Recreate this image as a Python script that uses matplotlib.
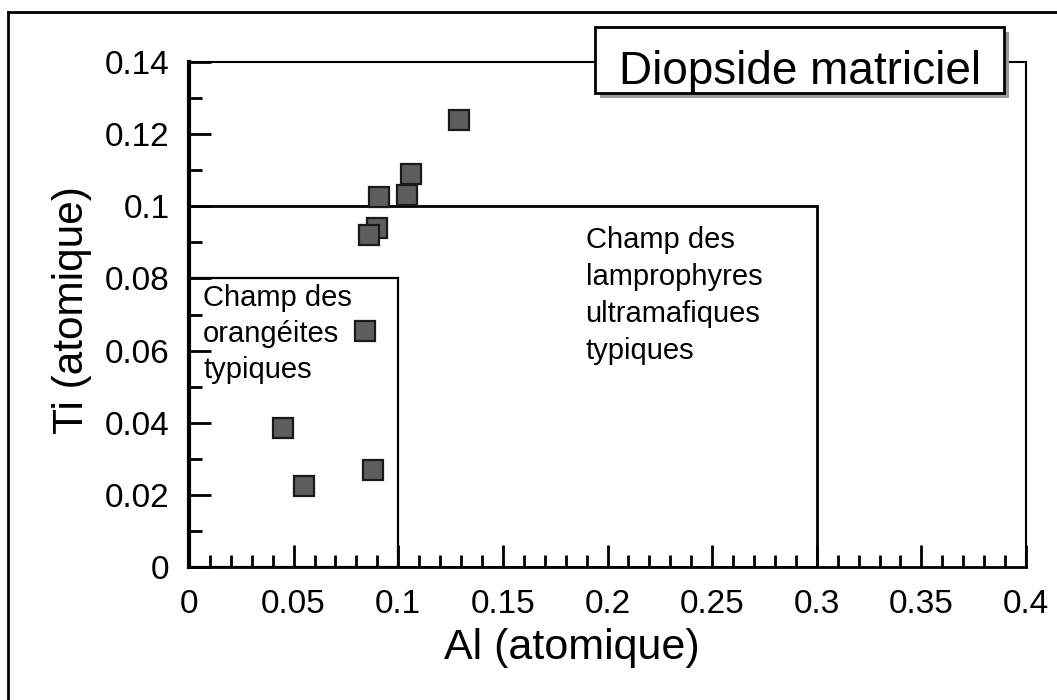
import numpy as np
import matplotlib.pyplot as plt
from matplotlib.patches import Rectangle
from matplotlib.lines import Line2D
from matplotlib.ticker import MultipleLocator

plt.rcParams['font.family'] = ['Liberation Sans', 'DejaVu Sans']

# donnees
al = [0.129, 0.106, 0.104, 0.091, 0.090, 0.086, 0.084, 0.045, 0.055, 0.088]
ti = [0.124, 0.109, 0.103, 0.1025, 0.094, 0.092, 0.0655, 0.0385, 0.0225, 0.027]

# champs (Al max, Ti max)
champ_orangeites = (0.1, 0.08)
champ_lamprophyres = (0.3, 0.1)
txt_orangeites = "Champ des\norangéites\ntypiques"
txt_lamprophyres = "Champ des\nlamprophyres\nultramafiques\ntypiques"

titre = "Diopside matriciel"
xlabel = "Al (atomique)"
ylabel = "Ti (atomique)"

W, H = 1057, 700
fig = plt.figure(figsize=(W / 100, H / 100), dpi=100)

def fx(px):
    return px / W

def fy(py):
    return 1 - py / H

ax = fig.add_axes([fx(189), fy(567), fx(1026) - fx(189), fy(62) - fy(567)])
ax.set_xlim(0, 0.4)
ax.set_ylim(0, 0.14)

# champs
for (w, h), lw in [(champ_lamprophyres, 2.0), (champ_orangeites, 1.6)]:
    ax.add_patch(Rectangle((0, 0), w, h, fill=False, ec='black', lw=lw, zorder=2))

ax.text(0.0067, 0.0785, txt_orangeites, fontsize=21, va='top', ha='left',
        linespacing=1.36, zorder=3)
ax.text(0.1895, 0.0945, txt_lamprophyres, fontsize=21, va='top', ha='left',
        linespacing=1.40, zorder=3)

ax.plot(al, ti, 's', ms=15, mfc='#5e5e5e', mec='#1a1a1a', mew=1.6,
        ls='none', zorder=4, clip_on=False)

# axes et graduations
for s in ['top', 'right']:
    ax.spines[s].set_linewidth(1.5)
ax.spines['left'].set_linewidth(3)
ax.spines['bottom'].set_linewidth(2)

ax.xaxis.set_major_locator(MultipleLocator(0.05))
ax.xaxis.set_minor_locator(MultipleLocator(0.01))
ax.yaxis.set_major_locator(MultipleLocator(0.02))
ax.yaxis.set_minor_locator(MultipleLocator(0.01))
ax.tick_params(which='both', direction='in', top=False, right=False, width=2,
               labelsize=24)
ax.tick_params(which='major', length=16)
ax.tick_params(which='minor', length=9)
ax.tick_params(axis='x', which='major', pad=16)
ax.tick_params(axis='y', which='major', pad=14)
ax.xaxis.set_major_formatter(plt.FuncFormatter(lambda v, p: f"{v:g}"))
ax.yaxis.set_major_formatter(plt.FuncFormatter(lambda v, p: f"{v:g}"))

fig.text(fx(572), fy(648), xlabel, fontsize=31, ha='center', va='center')
fig.text(fx(72), fy(310), ylabel, fontsize=30.5, ha='center', va='center',
         rotation=90)

# cadre du titre avec ombre
fig.add_artist(Rectangle((fx(600), fy(98)), fx(409), fy(27) - fy(93),
                         fc='#9a9a9a', ec='none', transform=fig.transFigure,
                         zorder=5))
fig.add_artist(Rectangle((fx(595), fy(93)), fx(409), fy(27) - fy(93),
                         fc='white', ec='black', lw=2, transform=fig.transFigure,
                         zorder=6))
fig.text(fx(800), fy(84), titre, fontsize=33, ha='center', va='baseline', zorder=7)

# cadre exterieur
fig.add_artist(Line2D([fx(8), fx(8)], [fy(12), 0], color='black', lw=2))
fig.add_artist(Line2D([fx(8), 1], [fy(12), fy(12)], color='black', lw=2))

fig.savefig('out.png', dpi=100)
